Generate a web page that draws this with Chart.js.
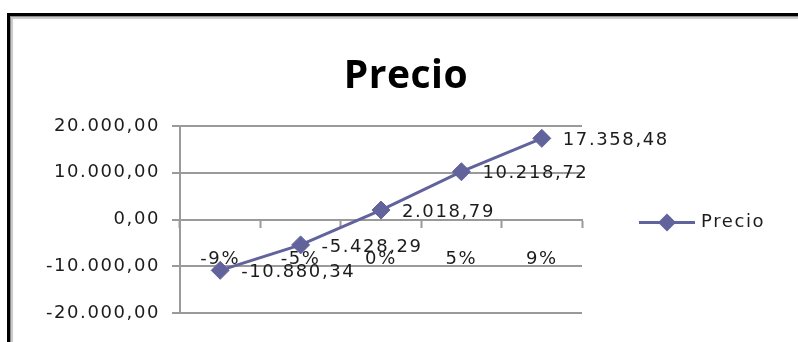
<!DOCTYPE html>
<html>
<head>
<meta charset="utf-8">
<script src="https://cdn.jsdelivr.net/npm/chart.js@4/dist/chart.umd.min.js"></script>
<style>
  html, body { margin: 0; padding: 0; background: #fff; }
  #wrap { position: relative; width: 798px; height: 342px; overflow: hidden; background: #fff; }
  #frame {
    position: absolute; left: 7px; top: 13px; width: 900px; height: 400px;
    border-top: 3px solid #000; border-left: 3px solid #000;
    box-shadow: inset 1px 1px 0 #8a8a8a, inset 3px 3px 1px #c8c8c8;
  }
  #c { position: absolute; left: 0; top: 0; }
</style>
</head>
<body>
<div id="wrap">
  <div id="frame"></div>
  <canvas id="c" width="798" height="342"></canvas>
</div>
<script>
// Sensitivity of the price to the rate change
const categories = ['-9%', '-5%', '0%', '5%', '9%'];
const precio = [-10880.34, -5428.29, 2018.79, 10218.72, 17358.48];
const yTicks = [-20000, -10000, 0, 10000, 20000];
const seriesName = 'Precio';
const chartTitle = 'Precio';

const lineColor = '#62629c';
const textColor = '#1c1c1c';
const gridColor = '#9a9a9a';
const labelFont = { family: "'DejaVu Sans', Verdana, sans-serif", size: 18 };
const spacing = '1.6px';

// Spanish number format: thousands with '.', decimals with ','
function fmt(v) {
  const neg = v < 0;
  const parts = Math.abs(v).toFixed(2).split('.');
  const int = parts[0].replace(/\B(?=(\d{3})+(?!\d))/g, '.');
  return (neg ? '-' : '') + int + ',' + parts[1];
}

const spacingPlugin = {
  id: 'spacing',
  beforeLayout(chart) { chart.ctx.letterSpacing = spacing; },
  beforeDraw(chart) { chart.ctx.letterSpacing = spacing; }
};

const titlePlugin = {
  id: 'caption',
  afterDraw(chart) {
    const ctx = chart.ctx;
    ctx.save();
    ctx.letterSpacing = '0.5px';
    ctx.font = "bold 39px 'Open Sans', sans-serif";
    ctx.fillStyle = '#000';
    ctx.textAlign = 'center';
    ctx.textBaseline = 'alphabetic';
    ctx.fillText(chartTitle, 406, 88);
    ctx.restore();
  }
};

const valueLabels = {
  id: 'valueLabels',
  afterDatasetsDraw(chart) {
    const ctx = chart.ctx;
    const meta = chart.getDatasetMeta(0);
    const data = chart.data.datasets[0].data;
    ctx.save();
    ctx.letterSpacing = spacing;
    ctx.font = `${labelFont.size}px ${labelFont.family}`;
    ctx.fillStyle = textColor;
    ctx.textAlign = 'left';
    ctx.textBaseline = 'middle';
    meta.data.forEach((pt, i) => {
      ctx.fillText(fmt(data[i]), pt.x + 21, pt.y + 2);
    });
    ctx.restore();
  }
};

const legendPlugin = {
  id: 'sideLegend',
  afterDraw(chart) {
    const ctx = chart.ctx;
    const ds = chart.data.datasets[0];
    const y = (chart.chartArea.top + chart.chartArea.bottom) / 2 + 3;
    const x0 = chart.chartArea.right + 57, x1 = x0 + 56;
    const cx = (x0 + x1) / 2, r = ds.pointRadius;
    ctx.save();
    ctx.strokeStyle = ds.borderColor;
    ctx.lineWidth = ds.borderWidth;
    ctx.beginPath();
    ctx.moveTo(x0, y); ctx.lineTo(x1, y);
    ctx.stroke();
    ctx.fillStyle = ds.pointBackgroundColor;
    ctx.beginPath();
    ctx.moveTo(cx, y - r); ctx.lineTo(cx + r, y); ctx.lineTo(cx, y + r); ctx.lineTo(cx - r, y); ctx.closePath();
    ctx.fill();
    ctx.letterSpacing = spacing;
    ctx.font = `${labelFont.size}px ${labelFont.family}`;
    ctx.fillStyle = textColor;
    ctx.textAlign = 'left';
    ctx.textBaseline = 'middle';
    ctx.fillText(ds.label, x1 + 6, y);
    ctx.restore();
  }
};

new Chart(document.getElementById('c'), {
  type: 'line',
  data: {
    labels: categories,
    datasets: [{
      label: seriesName,
      data: precio,
      borderColor: lineColor,
      backgroundColor: lineColor,
      borderWidth: 3,
      pointStyle: 'rectRot',
      pointRadius: 9,
      pointBackgroundColor: lineColor,
      pointBorderColor: lineColor,
      pointBorderWidth: 1,
      tension: 0
    }]
  },
  options: {
    responsive: false,
    animation: false,
    devicePixelRatio: 1,
    layout: { padding: { top: 126, right: 216, bottom: 29, left: 0 } },
    plugins: {
      legend: { display: false },
      title: { display: false },
      tooltip: { enabled: false }
    },
    scales: {
      x: {
        type: 'category',
        position: { y: 0 },
        offset: true,
        grid: {
          display: true, offset: true, drawOnChartArea: false, drawTicks: true,
          tickLength: 7, tickWidth: 2, tickColor: gridColor
        },
        border: { display: true, color: gridColor, width: 2 },
        ticks: { color: textColor, font: labelFont, padding: 22, maxRotation: 0 }
      },
      y: {
        min: -20000, max: 20000,
        afterBuildTicks(scale) { scale.ticks = yTicks.map(v => ({ value: v })); },
        afterFit(scale) { scale.width = 180; },
        grid: { color: gridColor, lineWidth: 2, tickLength: 8, tickColor: gridColor, tickWidth: 2 },
        border: { display: true, color: gridColor, width: 2 },
        ticks: { color: textColor, font: labelFont, padding: 12, callback: v => fmt(v) }
      }
    }
  },
  plugins: [spacingPlugin, valueLabels, legendPlugin, titlePlugin]
});
</script>
</body>
</html>
